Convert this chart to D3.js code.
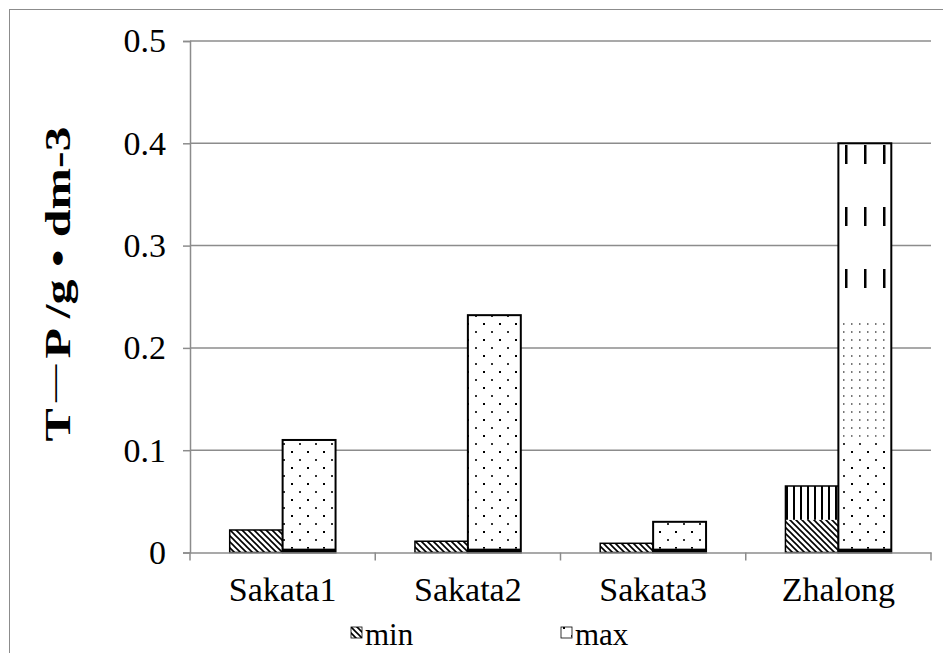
<!DOCTYPE html>
<html><head><meta charset="utf-8">
<script src="https://cdn.jsdelivr.net/npm/d3@7"></script>
<style>body{margin:0;background:#fff;} svg{display:block;}</style>
</head><body>
<svg id="c" width="943" height="653"></svg>
<script>
const categories = ["Sakata1","Sakata2","Sakata3","Zhalong"];
const minLower  = [0.022, 0.011, 0.009, 0.032];
const minUpper  = [0, 0, 0, 0.033];
const maxBase   = [0.004, 0.004, 0.004, 0.004];
const maxLower  = [0.106, 0.228, 0.026, 0.109];
const maxMiddle = [0, 0, 0, 0.117];
const maxUpper  = [0, 0, 0, 0.170];
const yTicks = [0, 0.1, 0.2, 0.3, 0.4, 0.5];
const seriesNames = ["min","max"];
const SERIF = "'Liberation Serif', 'Times New Roman', serif";

const svg = d3.select("#c");
const W = 943, H = 653;
const m = {left:190, right:12, top:41, bottom:100.5};
const x0 = d3.scaleBand().domain(categories).range([m.left, W - m.right]).paddingInner(0).paddingOuter(0);
const y = d3.scaleLinear().domain([0,0.5]).range([H - m.bottom, m.top]);
const bw = x0.bandwidth()/3.5;

const defs = svg.append("defs");
const ph = defs.append("pattern").attr("id","hatch").attr("patternUnits","userSpaceOnUse").attr("width",6).attr("height",6);
ph.append("rect").attr("width",6).attr("height",6).attr("fill","#fff");
ph.append("path").attr("d","M-1,-1 L7,7 M-1,5 L1,7 M5,-1 L7,1").attr("stroke","#000").attr("stroke-width",1.6);
const pd = defs.append("pattern").attr("id","dots").attr("patternUnits","userSpaceOnUse").attr("width",16).attr("height",16);
pd.append("rect").attr("width",16).attr("height",16).attr("fill","#fff");
pd.append("rect").attr("x",3).attr("y",3).attr("width",2).attr("height",2).attr("fill","#000");
pd.append("rect").attr("x",11).attr("y",11).attr("width",2).attr("height",2).attr("fill","#333");
const pl = defs.append("pattern").attr("id","ldots").attr("patternUnits","userSpaceOnUse").attr("width",8).attr("height",8);
pl.append("rect").attr("width",8).attr("height",8).attr("fill","#fff");
pl.append("rect").attr("x",3).attr("y",3).attr("width",1.5).attr("height",2).attr("fill","#777");
const pv = defs.append("pattern").attr("id","vstripe").attr("patternUnits","userSpaceOnUse").attr("width",7).attr("height",7);
pv.append("rect").attr("width",7).attr("height",7).attr("fill","#fff");
pv.append("rect").attr("x",2).attr("y",0).attr("width",2).attr("height",7).attr("fill","#000");
const pdash = defs.append("pattern").attr("id","dash").attr("patternUnits","userSpaceOnUse").attr("width",19).attr("height",62).attr("x",4).attr("y",143);
pdash.append("rect").attr("width",19).attr("height",62).attr("fill","#fff");
pdash.append("rect").attr("x",5).attr("y",2).attr("width",2.5).attr("height",19).attr("fill","#000");

svg.append("rect").attr("x",9.5).attr("y",9.5).attr("width",1000).attr("height",1000).attr("fill","none").attr("stroke","#8c8c8c").attr("stroke-width",1);

svg.append("g").selectAll("line").data(yTicks.filter(d=>d>0)).join("line")
  .attr("x1",m.left).attr("x2",W-m.right).attr("y1",d=>y(d)).attr("y2",d=>y(d))
  .attr("stroke","#8c8c8c").attr("stroke-width",1.5);

const ya = svg.append("g").attr("transform",`translate(${m.left},0)`)
  .call(d3.axisLeft(y).tickValues(yTicks).tickFormat(d=>d===0?"0":d3.format(".1f")(d)).tickSize(7).tickPadding(17));
ya.attr("font-family",null);
ya.select(".domain").attr("stroke","#8c8c8c").attr("stroke-width",1.5);
ya.selectAll(".tick line").attr("stroke","#8c8c8c").attr("stroke-width",1.5);
ya.selectAll("text").attr("font-size",34).attr("fill","#000").style("font-family",SERIF);

const g = svg.append("g");
function seg(i, lo, hi, fill, xoff){
  if (hi-lo<=0) return;
  g.append("rect").attr("x",x0(categories[i])+bw*0.75+xoff).attr("width",bw)
   .attr("y",y(hi)).attr("height",y(lo)-y(hi)).attr("fill",fill);
}
categories.forEach((c,i)=>{
  seg(i,0,minLower[i],"url(#hatch)",0);
  seg(i,minLower[i],minLower[i]+minUpper[i],"url(#vstripe)",0);
  const minTot = minLower[i]+minUpper[i];
  g.append("rect").attr("x",x0(c)+bw*0.75).attr("width",bw).attr("y",y(minTot)).attr("height",y(0)-y(minTot))
   .attr("fill","none").attr("stroke","#000").attr("stroke-width",1.5);
  let s0 = 0, s1 = maxBase[i];
  seg(i,s0,s1,"#000",bw);
  s0 = s1; s1 += maxLower[i]; seg(i,s0,s1,"url(#dots)",bw);
  s0 = s1; s1 += maxMiddle[i]; seg(i,s0,s1,"url(#ldots)",bw);
  s0 = s1; s1 += maxUpper[i]; seg(i,s0,s1,"url(#dash)",bw);
  g.append("rect").attr("x",x0(c)+bw*1.75).attr("width",bw).attr("y",y(s1)).attr("height",y(0)-y(s1))
   .attr("fill","none").attr("stroke","#000").attr("stroke-width",2);
});

const xa = svg.append("g").attr("transform",`translate(0,${y(0)})`)
  .call(d3.axisBottom(x0).tickSize(0).tickPadding(24));
xa.attr("font-family",null);
xa.select(".domain").attr("stroke","#8c8c8c").attr("stroke-width",1.5);
xa.selectAll("text").attr("font-size",34).attr("fill","#000").style("font-family",SERIF);
svg.append("g").selectAll("line").data(d3.range(categories.length+1)).join("line")
  .attr("x1",i=>m.left + i*x0.bandwidth()).attr("x2",i=>m.left + i*x0.bandwidth())
  .attr("y1",y(0)).attr("y2",y(0)+8).attr("stroke","#8c8c8c").attr("stroke-width",1.5);

const t = svg.append("text").attr("transform","translate(70,284) rotate(-90)").attr("text-anchor","middle")
  .attr("font-size",36).attr("font-weight","bold").style("font-family",SERIF)
  .attr("textLength",315).attr("lengthAdjust","spacingAndGlyphs");
t.append("tspan").text("T");
t.append("tspan").style("font-family","'Noto Serif CJK SC', 'Noto Sans CJK SC', serif").text("－");
t.append("tspan").text("P /g • dm-3");

const leg = svg.append("g");
const legX = [351, 561];
const legFill = ["url(#hatch)","url(#dots)"];
seriesNames.forEach((n,i)=>{
  leg.append("rect").attr("x",legX[i]).attr("y",627).attr("width",11).attr("height",11)
    .attr("fill",legFill[i]).attr("stroke","#000").attr("stroke-width",0.8);
  leg.append("text").attr("x",legX[i]+14).attr("y",645).attr("font-size",31).style("font-family",SERIF).text(n);
});
</script>
</body></html>
